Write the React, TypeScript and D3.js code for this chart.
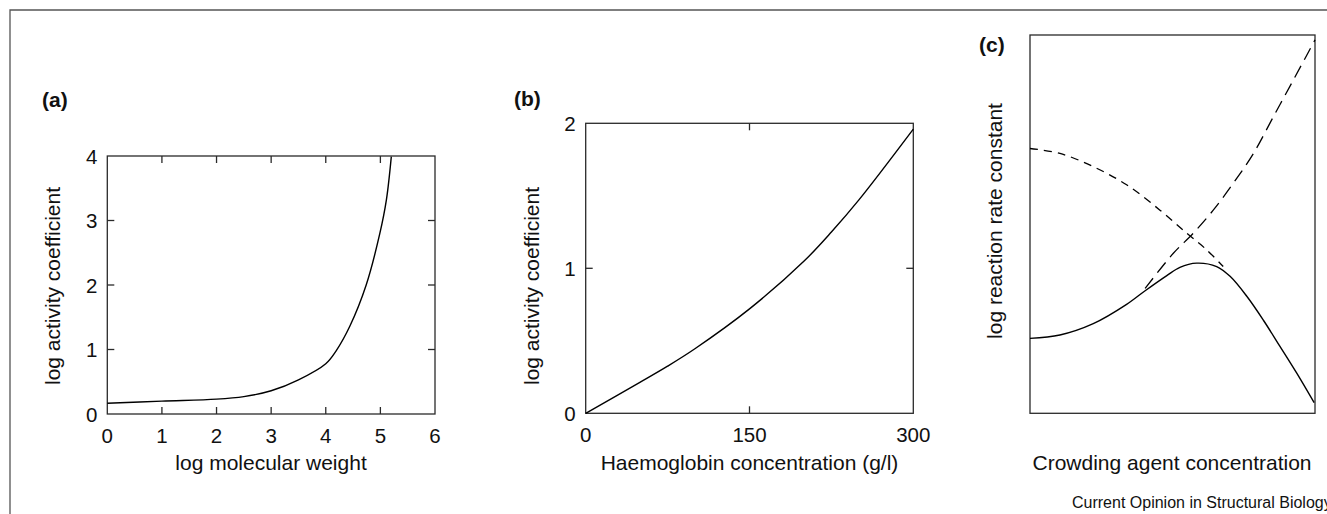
import React from 'react'
import * as d3 from 'd3'

// panel (a): log activity coefficient vs log molecular weight
const molWeight = [0, 1, 2, 2.5, 3, 3.5, 4, 4.19, 4.44, 4.74, 4.99, 5.11, 5.2]
const activityA = [0.166, 0.2, 0.23, 0.27, 0.36, 0.53, 0.78, 0.98, 1.36, 2.0, 2.8, 3.32, 3.99]
const ticksAX = [0, 1, 2, 3, 4, 5, 6]
const ticksAY = [0, 1, 2, 3, 4]

// panel (b): log activity coefficient vs haemoglobin concentration
const haemoglobin = [0, 50, 75, 100, 150, 200, 225, 250, 300]
const activityB = [0, 0.215, 0.325, 0.445, 0.72, 1.05, 1.25, 1.47, 1.96]
const ticksBX = [0, 150, 300]
const ticksBY = [0, 1, 2]

// panel (c): schematic, arbitrary units
const crowdSolidX = [0, 0.105, 0.222, 0.339, 0.404, 0.48, 0.526, 0.585, 0.655, 0.702, 0.76, 0.819, 0.877, 0.936, 0.997]
const crowdSolidY = [0.198, 0.207, 0.237, 0.288, 0.324, 0.364, 0.386, 0.397, 0.388, 0.362, 0.31, 0.246, 0.177, 0.106, 0.028]
const crowdRiseX = [0.404, 0.503, 0.573, 0.643, 0.713, 0.784, 0.854, 0.924, 1.0]
const crowdRiseY = [0.33, 0.423, 0.476, 0.537, 0.608, 0.687, 0.784, 0.881, 0.987]
const crowdFallX = [0, 0.105, 0.222, 0.339, 0.456, 0.55, 0.62, 0.678]
const crowdFallY = [0.7, 0.687, 0.652, 0.604, 0.537, 0.476, 0.432, 0.388]

const font = '"Liberation Sans", Arial, Helvetica, sans-serif'
const boxColor = '#2a2a2a'
const TICK = 7

type Scale = d3.ScaleLinear<number, number>

const lineOf = (xs: number[], ys: number[], x: Scale, y: Scale) =>
  d3.line<number>()
    .x((_, i) => x(xs[i]))
    .y((_, i) => y(ys[i]))
    .curve(d3.curveCatmullRom.alpha(0.5))(ys) || ''

const Frame = ({ x, y, xt, yt }: { x: Scale, y: Scale, xt: number[], yt: number[] }) => {
  const [x0, x1] = x.range()
  const [y0, y1] = y.range()
  return (
    <g stroke={boxColor} strokeWidth={1.3} fill="none">
      <rect x={x0} y={y1} width={x1 - x0} height={y0 - y1} />
      {xt.slice(1, -1).map(t => (
        <g key={'x' + t}>
          <line x1={x(t)} x2={x(t)} y1={y0} y2={y0 - TICK} />
          <line x1={x(t)} x2={x(t)} y1={y1} y2={y1 + TICK} />
        </g>
      ))}
      {yt.slice(1, -1).map(t => (
        <g key={'y' + t}>
          <line x1={x0} x2={x0 + TICK} y1={y(t)} y2={y(t)} />
          <line x1={x1} x2={x1 - TICK} y1={y(t)} y2={y(t)} />
        </g>
      ))}
    </g>
  )
}

const TickLabels = ({ x, y, xt, yt }: { x: Scale, y: Scale, xt: number[], yt: number[] }) => {
  const [x0] = x.range()
  const [y0] = y.range()
  return (
    <g fontFamily={font} fontSize={20.5} fill="#111">
      {xt.map(t => (
        <text key={'x' + t} x={x(t)} y={y0 + 29} textAnchor="middle">{t}</text>
      ))}
      {yt.map(t => (
        <text key={'y' + t} x={x0 - 10} y={y(t) + 7.5} textAnchor="end">{t}</text>
      ))}
    </g>
  )
}

const YTitle = ({ cx, cy, text }: { cx: number, cy: number, text: string }) => (
  <text transform={`translate(${cx},${cy}) rotate(-90)`} dy="0.35em" textAnchor="middle"
    fontFamily={font} fontSize={21} fill="#111">{text}</text>
)

const XTitle = ({ cx, text }: { cx: number, text: string }) => (
  <text x={cx} y={470} textAnchor="middle" fontFamily={font} fontSize={21} fill="#111">{text}</text>
)

const PanelLabel = ({ x, y, text }: { x: number, y: number, text: string }) => (
  <text x={x} y={y} fontFamily={font} fontSize={21} fontWeight="bold" fill="#111">{text}</text>
)

export default function App() {
  const xa = d3.scaleLinear().domain([0, 6]).range([107.3, 435])
  const ya = d3.scaleLinear().domain([0, 4]).range([414, 156])

  const xb = d3.scaleLinear().domain([0, 300]).range([585.7, 913.3])
  const yb = d3.scaleLinear().domain([0, 2]).range([413.3, 123.3])

  const xc = d3.scaleLinear().domain([0, 1]).range([1030, 1315])
  const yc = d3.scaleLinear().domain([0, 1]).range([413.3, 35])

  return (
    <svg width={1327} height={514} style={{ position: 'absolute', left: 0, top: 0, background: '#fff' }}>
      <rect width={1327} height={514} fill="#fff" />
      <path d="M10,514 V10 H1327" fill="none" stroke="#555" strokeWidth={1.3} />

      {/* (a) */}
      <PanelLabel x={42} y={107} text="(a)" />
      <Frame x={xa} y={ya} xt={ticksAX} yt={ticksAY} />
      <TickLabels x={xa} y={ya} xt={ticksAX} yt={ticksAY} />
      <path d={lineOf(molWeight, activityA, xa, ya)} fill="none" stroke="#000" strokeWidth={1.4} />
      <YTitle cx={53} cy={286} text="log activity coefficient" />
      <XTitle cx={271} text="log molecular weight" />

      {/* (b) */}
      <PanelLabel x={514} y={106} text="(b)" />
      <Frame x={xb} y={yb} xt={ticksBX} yt={ticksBY} />
      <TickLabels x={xb} y={yb} xt={ticksBX} yt={ticksBY} />
      <path d={lineOf(haemoglobin, activityB, xb, yb)} fill="none" stroke="#000" strokeWidth={1.4} />
      <YTitle cx={532} cy={286} text="log activity coefficient" />
      <XTitle cx={749.5} text="Haemoglobin concentration (g/l)" />

      {/* (c) */}
      <PanelLabel x={979} y={52} text="(c)" />
      <Frame x={xc} y={yc} xt={[]} yt={[]} />
      <path d={lineOf(crowdFallX, crowdFallY, xc, yc)} fill="none" stroke="#000" strokeWidth={1.3} strokeDasharray="8,6" />
      <path d={lineOf(crowdRiseX, crowdRiseY, xc, yc)} fill="none" stroke="#000" strokeWidth={1.3} strokeDasharray="13,7" />
      <path d={lineOf(crowdSolidX, crowdSolidY, xc, yc)} fill="none" stroke="#000" strokeWidth={1.4} />
      <YTitle cx={995} cy={221} text="log reaction rate constant" />
      <XTitle cx={1172} text="Crowding agent concentration" />

      <text x={1072} y={508} fontFamily={font} fontSize={16} fill="#111">Current Opinion in Structural Biology</text>
    </svg>
  )
}
